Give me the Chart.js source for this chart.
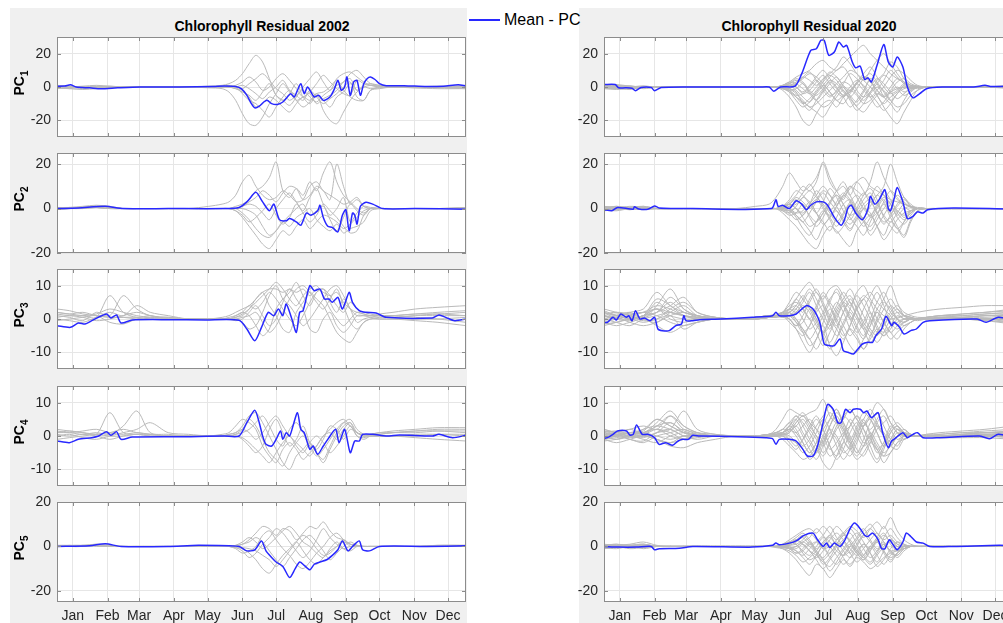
<!DOCTYPE html>
<html>
<head>
<meta charset="utf-8">
<script src="https://cdn.jsdelivr.net/npm/chart.js@4/dist/chart.umd.min.js"></script>
<style>
  body { margin: 0; width: 1003px; height: 623px; overflow: hidden; position: relative; background: #fff;
         font-family: "Liberation Sans", Arial, sans-serif; color: #000; }
  .fig { position: absolute; background: #f0f0f0; }
  .title { position: absolute; top: 18px; width: 300px; line-height: 16px; font-size: 14px; font-weight: bold; text-align: center; }
  .pc { position: absolute; left: -11px; width: 60px; height: 16px; line-height: 16px; font-size: 14px; font-weight: bold;
        text-align: center; transform: rotate(-90deg); }
  .pc sub { font-size: 10px; }
  .legend { position: absolute; left: 467px; top: 0; width: 112px; height: 30px; background: #fff; }
  .legend .swatch { position: absolute; left: 2px; top: 19px; width: 31px; height: 2px; background: rgb(40,40,255); }
  .legend .label { position: absolute; left: 37px; top: 11px; font-size: 16px; line-height: 18px; white-space: nowrap; }
  canvas { position: absolute; }
</style>
</head>
<body>
<div class="fig" style="left:10px;top:8px;width:457px;height:615px"></div>
<div class="fig" style="left:579px;top:8px;width:424px;height:615px"></div>
<div class="title" style="left:112px">Chlorophyll Residual 2002</div>
<div class="title" style="left:659px">Chlorophyll Residual 2020</div>
<div class="legend"><div class="swatch"></div><div class="label">Mean - PC</div></div>

<script>
// day-of-year axis, ticks in the middle of each month
const monthTicks = [15, 46, 74, 105, 135, 166, 196, 227, 258, 288, 319, 349];
const monthNames = ["Jan", "Feb", "Mar", "Apr", "May", "Jun", "Jul", "Aug", "Sep", "Oct", "Nov", "Dec"];

// y limits and tick values per PC row
const yLimits = [[-30, 30], [-20, 25], [-15, 15], [-15, 15], [-25, 20]];
const yTickValues = [[-20, 0, 20], [-20, 0, 20], [-10, 0, 10], [-10, 0, 10], [-20, 0, 20]];

// days on which the individual (gray) curves are sampled
const grayDays = [1, 12, 24, 36, 48, 60, 72, 84, 100, 118, 136, 148,
  154, 160, 166, 172, 178, 184, 190, 196, 202, 208, 214, 220, 226, 232, 238, 244, 250, 256, 262, 268, 274, 280,
  288, 300, 320, 340, 365];

// ---- 2002 ----
const gray02pc1 = [
  [0,0.5,0,-0.5,0,0,0,0,0,0,0.5,1,  2,4,8,14,19,15,5,-5,-8,-4,2,-6,-10,-5,-8,-12,-6,-3,2,-2,1,2,  1,0.5,0,0,0.5],
  [0,-1,-1.5,-1,-0.5,0,0,0,0,0,-0.5,-1,  -3,-8,-16,-22,-23,-18,-10,-4,2,-3,-8,-6,-4,-10,-7,-5,-2,3,5,-2,0,1,  0.5,0,-0.5,-0.5,-1],
  [1,0.5,-0.5,0,0.5,0,0,0,0,0,0,0.5,  1,0,-4,-8,-10,-14,-18,-12,-6,-2,-8,-12,-9,-4,-14,-20,-22,-15,-8,-3,0,-1,  -0.5,0,0,0.5,0],
  [-1,-0.5,0,0.5,0,0,0,0,0,0,0,0,  0,1,3,6,3,-2,0,5,8,4,-1,-6,-3,2,7,3,-1,-4,-5,4,2,1,  0,0,0,0,-0.5],
  [0,0,0.5,1,0.5,0,0,0,0,0,0,0,  0,-1,-3,-5,-8,-3,2,-5,-8,-11,-6,0,5,9,3,-2,5,8,9,6,3,1,  0.5,0,0,0,1],
  [-0.5,-1,0,0,0,0,0,0,0,0,0,0.5,  0,-1,-2,-6,-12,-10,-6,-8,-12,-15,-10,-6,-8,-4,-3,0,4,-2,-6,-8,-8,-2,  -1,0,-0.5,-1,-1],
  [0.5,0,-1,0,0,0,0,0,0,0,0,0,  0.5,0,1,-1,-4,-7,-3,0,4,-2,-5,-8,-2,-6,-10,-7,-4,0,3,-6,-8,-2,  0,0,0,0,0],
  [0,0,0,-0.5,0,0,0,0,0,0,0,0,  0,0,-1,2,5,8,4,-1,-4,-8,-5,-2,-6,-9,-5,-2,1,3,8,10,6,2,  1,0.5,0,0,0]
];
const gray02pc2 = [
  [0,0.5,0.5,1,0.5,0,0,0,0,0,1,2,  3,6,12,15,10,6,4,5,8,6,3,4,10,12,8,6,4,2,3,5,1,0,  0,0,0,0,0.5],
  [0.5,0.5,1,1.5,1,0,0,0,0,0,0,0,  0,-1,-4,-8,-12,-16,-18,-14,-10,-12,-8,-5,-9,-6,-3,-4,-6,-9,-7,-4,-1,0,  0,0,0,0,0],
  [-0.5,0,0.5,0.5,0,0,0,0,0,0,0,0,  0,1,2,4,8,10,14,21,8,5,9,6,12,8,16,21,12,6,3,0,-2,0,  0,0,0,0,0],
  [0,0,0.5,1,0.5,0,0,0,0,0,0,0,  0,0,-2,-5,-9,-12,-13,-10,-6,-8,-4,-2,0,-5,-8,-10,-7,-11,-9,-8,-6,-1,  0,0,0,0,0],
  [0.5,0,0,0.5,0,0,0,0,0,0,0,0,  0,0,1,3,5,8,6,3,7,10,9,4,6,10,8,4,20,10,2,4,1,0,  0,0,0,0,0.5],
  [0,0,0.5,0.5,0,0,0,0,0,0,0,0,  0,-1,-3,-6,-4,-1,2,-3,-7,-4,2,-2,-6,-3,2,-1,-4,-8,-11,-10,-3,0,  0,0,0,0,0],
  [0,0.5,0,0.5,0,0,0,0,0,0,0,0,  0,0,1,2,1,-2,-5,0,4,7,3,-1,5,9,2,-3,0,5,-6,-2,1,0.5,  0,0,0,0,0],
  [-0.5,0,0.5,1,0.5,0,0,0,0,0,0,0,  0,0,0,-1,-3,-8,-12,-10,-6,-3,0,2,-3,-1,1,-5,-10,-4,2,-1,-3,0,  0,0,0,0,0]
];
const gray02pc3 = [
  [3,2.5,1.5,1,0.5,0.5,0.5,0,0,0,0,0.5,  1,2,3,4,6,8,9,9,8,9,8,9,7,9,8,7,8,5,3,2,1.5,1,  1.5,2,3,3.5,4],
  [2,1.5,1,0.5,7,2,0.5,1,0,0,0,0,  0,1,2,1,-2,-5,-3,3,6,8,11,7,4,8,9,5,2,6,3,1,1,1,  1,1,1.5,2,2.5],
  [1,0.5,-0.5,2,1,7,3,1,0.5,0,0,0,  0,0.5,1,3,6,8,4,1,-3,-4,2,5,8,6,4,0,-4,-6,-7,-4,-1,0,  0.5,0.5,1,1,1],
  [0,-0.5,-1,0.5,2,1,4,2,1,0,0,0,  0,0,-1,-3,-2,2,7,10,6,4,1,-2,0,3,6,9,10,7,3,-1,0,0.5,  1,1,0.5,0,-1],
  [-0.5,0,0.5,1,-1,-1.5,0,0.5,0,0,0,0,  0,-0.5,0,2,4,1,-2,0,5,9,6,3,-3,-4,0,2,-2,-4,-2,1,1,0.5,  0,0,-0.5,-1,-2],
  [1.5,1,1,1.5,3,2,1,0.5,0.5,0,0,0,  0.5,1,2,4,3,5,8,6,3,0,-2,1,5,8,9,7,4,2,5,3,2,1.5,  1,1,1.5,1.5,2],
  [0.5,1,0.5,-0.5,0,1,2,1,0,0,0,0,  0,0,0.5,1,2,-1,-4,-2,2,6,9,10,8,5,3,6,9,4,-1,-3,-1,0,  0,0,0,0,0.5],
  [2,1.5,2,1,0.5,0.5,0,0,0,0,0,0,  0,0.5,1.5,3,5,7,9,11,9,6,4,7,9,10,7,3,0,-2,0,2,1.5,1,  1,0.5,1,1.5,1]
];
const gray02pc4 = [
  [2,1.5,1,0.5,7,1,0.5,0.5,0,0,0,0.5,  1,3,5,4,2,-3,-6,-8,-4,-2,-4,-7,-5,-3,0,2,4,5,3,1,0.5,0.5,  1,1.5,2,2.5,2.5],
  [1,1,0.5,1,0.5,3,7.5,1,0.5,0,0,0,  0.5,1,3,6,7,4,0,-4,-8,-10,-6,-4,-2,-5,-8,-4,0,3,4,0,-1,0,  0.5,1,1.5,2,2],
  [0,0.5,-0.5,-1,0,1,2,4,1,0.5,0,0,  0,0.5,2,5,3,-1,-5,-7,-9,-5,-2,0,-3,-6,-4,-1,2,4,3,1,0,0,  0,0,0.5,0.5,0],
  [-1,-0.5,0,0.5,1,2,1,0.5,0,0,0,0,  0,0,-1,-3,-5,-3,2,5,1,-3,-1,3,-2,-5,-7,-3,1,4,5,2,0.5,0,  0,0,-0.5,-1,-1.5],
  [1.5,1,1.5,2,1,0.5,1,0.5,0,0,0,0,  0,0.5,1,2,4,6,3,-1,-3,2,4,1,-2,-4,-1,3,2,-1,2,1,0,0.5,  0.5,1,1,1.5,1.5],
  [0.5,0,0.5,0,-1,0,0.5,0,0,0,0,0,  0,0,-0.5,-2,-4,-6,-8,-5,-2,0,-3,-5,-2,0,-2,-5,-3,0,3,0,-0.5,0,  0,0,0,0.5,0.5],
  [1,1.5,1,0.5,0,0,0.5,0,0,0,0,0,  0.5,1,2,1,-1,1,4,6,3,0,-2,-4,-6,-3,0,1,-1,2,4,1,0,0.5,  1,1,1.5,1.5,1]
];
const gray02pc5 = [
  [0.5,0.5,0,0.5,0,0,0,0,0,0,0,0,  0,-0.5,-1,-3,-6,-10,-12,-8,-4,-1,2,-2,-6,-8,-5,-2,0,2,1,0,0,0,  0,0,0,0.5,0.5],
  [0,0,0.5,1,0.5,0,0,0,0,0,0,0,  0,0.5,1,3,6,9,8,5,8,7,3,6,9,8,11,7,4,3,1,0.5,0,0,  0,0,0,0,0],
  [0.5,0,0,0.5,0,0,0,0,0,0,0,0,  0,-0.5,-2,-5,-3,1,4,8,6,2,-2,-5,-2,3,8,4,1,-1,0,0,0,0,  0,0,0,0.5,0.5],
  [0,0.5,0.5,0,0,0,0,0,0,0,0,0,  0,0,1,2,4,2,-2,-6,-9,-5,-1,3,5,2,-2,-6,-3,0,2,0.5,0,0,  0,0,0,0,0],
  [0,0,0.5,0.5,0,0,0,0,0,0,0,0,  0,-1,-3,-2,0,5,7,3,-1,-4,-8,-10,-7,-3,0,4,6,3,0,0,0,0,  0,0,0,0,0],
  [0.5,0,0,1,0,0,0,0,0,0,0,0,  0,0,-0.5,-1,-2,-4,-6,-9,-6,-2,2,5,3,-1,-4,-3,0,3,1,0.5,0,0,  0,0,0,0,0.5],
  [0,0,0,0.5,0.5,0,0,0,0,0,0,0,  0,0.5,2,4,2,-1,1,4,7,9,6,2,0,-3,-5,-1,2,-1,-2,0,0,0,  0,0,0,0,0]
];

// mean curves as [day, value]
const mean02pc1 = [[1,0.5],[8,0.6],[13,1.3],[18,0],[30,-0.5],[40,-1],[55,-0.5],[75,0],[110,0],[140,0.3],[150,0.6],[160,0.3],
  [165,-1],[170,-5],[174,-10],[177,-12.5],[181,-11.5],[185,-9],[188,-8],[192,-10],[197,-10.5],[202,-9],[206,-6],[209,-4],
  [212,-6],[215,-2],[218,2],[221,-4],[224,0],[227,-3],[230,-6],[234,-5],[238,-8],[242,-7],[245,-5],[248,-1],[251,4],[254,-2],
  [257,0],[259,6],[262,-5],[265,3],[268,4],[271,-5],[274,2],[277,5],[280,6],[284,4.5],[288,2],[294,0.8],[310,0.8],[330,0.3],
  [345,0.5],[358,1.3],[365,0.8]];
const mean02pc2 = [[1,0],[20,0.3],[44,1],[60,0],[100,0],[150,0],[163,0.5],[170,3],[178,7.3],[184,3],[190,-1],[194,2],[199,-5],
  [205,-5.5],[208,-4.5],[214,-6],[218,-7.5],[223,-2],[227,-3],[233,-1],[235,1.5],[238,-4],[242,-8],[246,-8.5],[251,-10.5],
  [255,-3],[258,-0.5],[261,-10],[264,-2],[266,-3],[268,-7],[271,1],[276,2.8],[282,2],[291,0],[320,0],[365,-0.3]];
const mean02pc3 = [[1,-2],[13,-2.5],[20,-1.2],[26,-1.5],[32,-0.5],[45,1.5],[49,0.3],[54,1.2],[58,-1.2],[68,-0.3],[100,-0.2],
  [133,-0.3],[163,-0.4],[170,-3],[177,-6.5],[183,-2.5],[189,2],[194,1],[198,3],[202,1],[205,4.5],[210,0],[214,-4],[217,2],
  [220,2.5],[226,10],[230,8.5],[235,9],[239,6],[243,6],[246,5],[251,6.5],[255,3],[261,8],[264,5],[270,2.5],[276,2],[285,1.8],
  [294,0.5],[335,0.3],[341,1.2],[347,0.5],[355,-0.5],[365,0]];
const mean02pc4 = [[1,-1.5],[12,-2],[20,-1],[32,-0.5],[38,0],[45,1.3],[49,0.2],[54,1.3],[58,-1],[68,-0.3],[120,-0.2],[150,0],
  [163,0],[170,4],[177,7.7],[181,4],[184,0],[187,-2.5],[192,-3],[196,-1],[200,1.5],[202,-1],[205,1],[208,0],[211,3],[215,7],
  [218,2],[221,1],[226,-4],[229,-3],[233,-5.5],[238,-3],[242,-1],[249,2],[252,-2],[257,2],[262,-5],[266,-1.5],[270,-1.5],
  [273,0.5],[282,0.5],[294,0],[306,0.3],[335,0],[341,0.5],[353,-0.5],[365,0.2]];
const mean02pc5 = [[1,0],[30,0.3],[44,1.2],[58,0],[100,0],[127,0.5],[163,0],[170,-2],[177,-1.5],[183,2.5],[187,-2],[192,-5],
  [196,-7],[202,-9],[208,-14],[213,-10],[217,-7],[221,-8.5],[226,-10.5],[230,-8],[235,-7],[241,-6],[246,-4],[251,-1.5],
  [255,2.5],[260,-2],[264,0],[270,2.5],[273,-1.5],[279,-2],[288,0],[330,0],[365,0.3]];

// ---- 2020 ----
const gray20pc1 = [
  [1.5,1,0.5,0,0,0,0,0,0,0,0,0,  0,1,3,6,8,10,14,16,12,10,14,18,22,25,20,16,12,8,5,3,1,0.5,  0,0,0,0,1],
  [-1,-1.5,-1,-0.5,0,0,0,0,0,0,0,0,  0,-2,-6,-12,-20,-23,-16,-10,-8,-12,-6,-2,-5,-10,-8,-4,-6,-3,-1,0,-1,0,  0,0,0,0,-0.5],
  [0.5,0,-1,0,0,0,0,0,0,0,0,0,  0,0,-1,-4,-8,-12,-10,-6,-2,2,6,10,8,4,0,-5,-12,-18,-22,-15,-8,-2,  0,0,0,0,0],
  [1,1.5,0.5,0,0,0,0,0,0,0,0,0,  0,1,2,4,2,-3,-8,-12,-10,-4,0,-6,-12,-15,-10,-5,0,6,10,8,4,1,  0,0,0,0,0.5],
  [-0.5,0,0.5,-1,0,0,0,0,0,0,0,0,  0,0,1,3,6,4,1,5,8,12,18,14,8,4,10,16,20,14,8,3,0,-1,  0,0,0,0,0],
  [0,-1,0,0.5,0,0,0,0,0,0,0,0,  0,-1,-3,-6,-9,-12,-15,-18,-12,-6,-2,-8,-14,-10,-4,0,-2,-8,-12,-10,-5,-2,  0,0,0,0,0],
  [1.5,0.5,0,0,0,0,0,0,0,0,0,0,  0,0.5,2,0,-4,-2,3,7,2,-3,-6,-2,3,8,12,6,0,-4,-2,2,1,0,  0,0,0,0,1],
  [-1,-0.5,-1.5,0,0,0,0,0,0,0,0,0,  0,-1,-2,-1,2,-4,-8,-3,2,6,0,-5,-9,-3,5,2,-6,-10,-15,-8,-2,0,  0,0,0,0,-1],
  [0.5,1,0,0,0,0,0,0,0,0,0,0,  0,0,0.5,2,5,8,6,2,-3,-8,-10,-4,2,6,4,-2,-6,-2,3,5,2,0.5,  0,0,0,0,0],
  [0,0,0.5,0,0,0,0,0,0,0,0,0,  0,-0.5,-2,-5,-4,0,4,0,-5,-3,2,8,5,0,-6,-12,-9,-3,0,-3,-1,0,  0,0,0,0,0],
  [-0.5,-1,0,0.5,0,0,0,0,0,0,0,0,  0,0,1,-2,-6,-9,-4,1,6,10,12,6,-2,-6,-3,4,8,15,12,5,1,0,  0,0,0,0,0],
  [1,0,-0.5,0,0,0,0,0,0,0,0,0,  0,-1,-1,-3,-10,-14,-8,-2,3,-1,-6,-12,-8,-2,4,-5,-10,-6,-3,0,-0.5,0,  0,0,0,0,0.5],
  [0,0.5,0,-0.5,0,0,0,0,0,0,0,0,  0,0,2,5,3,-2,-5,-1,4,2,-3,-6,-1,5,8,3,-3,-8,-4,1,-2,0,  0,0,0,0,0],
  [-0.5,0,0.5,0,0,0,0,0,0,0,0,0,  0,-1,-1,2,6,9,4,-2,-6,-2,3,1,-4,-8,-3,2,7,4,-1,-5,-3,0,  0,0,0,0,0],
  [0,-0.5,0,0.5,0,0,0,0,0,0,0,0,  0,0,-2,-6,-10,-7,-2,3,7,4,-2,-7,-11,-6,0,5,2,-3,-7,-4,-1,0,  0,0,0,0,0],
  [0.5,0,0,-0.5,0,0,0,0,0,0,0,0,  0,0.5,1,0,-3,1,6,10,5,0,-5,-3,2,6,3,-2,-5,0,5,2,0,0,  0,0,0,0,0],
  [0,0.5,-0.5,0,0,0,0,0,0,0,0,0,  0,-0.5,-3,-8,-12,-9,-3,1,-3,-8,-5,0,4,1,-4,-9,-14,-10,-4,-1,0,0,  0,0,0,0,0],
  [-0.5,0,0,0,0,0,0,0,0,0,0,0,  0,1,3,2,-1,-4,0,4,9,6,1,-2,2,-2,-6,-2,4,10,6,2,0,0,  0,0,0,0,0]
];
const gray20pc2 = [
  [1,0.5,0,0.5,0,0,0,0,0,0,1,2,  5,10,16,12,8,10,14,20,12,8,10,6,12,14,10,8,6,4,3,2,1,0.5,  0,0,0,0,0],
  [-0.5,-1,0,0,0,0,0,0,0,0,0,0,  0,-2,-5,-8,-12,-16,-18,-12,-8,-10,-14,-17,-10,-6,-3,-8,-12,-6,-9,-13,-6,-1,  0,0,0,0,0],
  [0.5,0,0.5,1,0,0,0,0,0,0,0,0,  0,1,3,6,10,8,12,21,14,8,4,10,8,6,12,21,14,8,4,2,1,0,  0,0,0,0,0],
  [0,1,0,0,0,0,0,0,0,0,0,0,  0,0,-1,-3,-6,-10,-14,-8,-4,-1,-6,-10,-4,0,-2,-8,-14,-10,-5,-2,-1,0,  0,0,0,0,0],
  [-1,-0.5,0.5,0,0,0,0,0,0,0,0,0,  0,0.5,2,5,3,0,4,8,6,2,5,9,12,8,3,6,10,20,12,5,2,0,  0,0,0,0,0],
  [0.5,-0.5,0,1,0,0,0,0,0,0,0,0,  0,-1,-3,-2,2,-4,-8,-4,2,6,2,-4,-8,-12,-6,0,4,-2,-8,-12,-5,-1,  0,0,0,0,0],
  [1,0,-0.5,0,0,0,0,0,0,0,0,0,  0,0,1,2,5,8,5,2,-2,-6,-2,3,6,2,-4,-2,3,8,5,1,-1,0,  0,0,0,0,0],
  [-0.5,0,1,0.5,0,0,0,0,0,0,0,0,  0,-0.5,-1,0,-4,-8,-6,-2,3,8,12,6,0,-5,-8,-3,2,-4,-9,-6,-2,0,  0,0,0,0,0],
  [0,0.5,0,-0.5,0,0,0,0,0,0,0,0,  0,0.5,2,0,-3,2,6,10,6,1,-4,-7,-3,2,5,10,6,2,-3,0,1,0,  0,0,0,0,0],
  [0.5,1,0.5,0,0,0,0,0,0,0,0,0,  0,0,-1,-4,-9,-12,-6,-1,-5,-11,-8,-3,3,7,4,-2,-6,-4,-1,-4,-2,0,  0,0,0,0,0],
  [-1,0,0,0.5,0,0,0,0,0,0,0,0,  0,1,4,8,6,2,-2,3,9,5,-1,-5,0,6,9,4,-4,-8,-11,-6,-1,0,  0,0,0,0,0],
  [0,-0.5,0.5,0,0,0,0,0,0,0,0,0,  0,0,0,-2,-1,3,-2,-6,-10,-4,2,4,-1,-5,-12,-8,-3,2,6,3,0.5,0,  0,0,0,0,0],
  [0.5,0,0,0.5,0,0,0,0,0,0,0,0,  0,0,2,4,1,-3,-6,-2,3,6,2,-3,-1,4,7,2,-3,-6,-2,2,0.5,0,  0,0,0,0,0],
  [0,-0.5,0,0,0,0,0,0,0,0,0,0,  0,-1,-2,1,5,3,-2,-7,-4,1,6,3,-3,-8,-4,1,5,2,-4,-7,-3,0,  0,0,0,0,0],
  [-0.5,0,0.5,0,0,0,0,0,0,0,0,0,  0,0.5,0,-3,-6,-2,3,7,3,-1,-5,-9,-5,0,3,-2,-7,-3,2,5,1,0,  0,0,0,0,0],
  [0,0.5,0,0,0,0,0,0,0,0,0,0,  0,0,1,3,7,11,6,1,-3,1,6,10,5,0,-3,2,8,4,-1,-3,-1,0,  0,0,0,0,0],
  [0.5,0,-0.5,0,0,0,0,0,0,0,0,0,  0,-0.5,-2,-5,-3,1,4,0,-4,-8,-3,2,-1,-6,-10,-5,0,3,-2,-5,-2,0,  0,0,0,0,0],
  [0,0,0.5,0.5,0,0,0,0,0,0,0,0,  0,1,2,0,-2,2,8,4,-1,3,7,4,-2,-4,1,6,3,-2,1,4,1,0,  0,0,0,0,0]
];
const gray20pc3 = [
  [3,2,1,0,4,9,3,1,0.5,0,0.5,1,  1.5,2,3,6,9,11,8,6,9,10,7,4,8,10,6,3,1,0,0.5,1,1.5,2,  2.5,3,3.5,4,4],
  [-1,-2,-1,0,-2,-4,-2,-1,0,0,0,0.5,  1,1,0,-3,-7,-10,-6,-2,-8,-11,-7,-3,-5,-9,-6,-3,-4,-2,-1,0,0,-0.5,  0,0,0,-0.5,-1],
  [1,0.5,2,3,8,4,2,1,0,0,0.5,1,  1,2,4,5,3,0,4,8,5,2,-2,-5,-2,3,7,10,6,2,0,-1,0,0,  0,0.5,0.5,1,1],
  [0,1,0,1,2,6.5,3,1,0.5,0,0.5,0.5,  1,1,-1,-3,-5,-2,2,4,0,-3,-6,-2,4,7,5,0,-3,-6,-4,-2,-1,0,  0,0,0,0,-1],
  [2,1,1.5,2,3,2,1,0.5,0,0,0.5,1,  1,2,5,8,6,3,-1,-4,-2,3,6,9,5,1,-3,-5,-2,2,4,2,1,0.5,  0.5,1,1,1.5,2],
  [-2,-1,0,-1,0,1,-3,-1,0,0,0,0.5,  0.5,1,2,0,-4,-8,-6,-1,3,0,-4,-8,-10,-6,-2,3,6,10,5,1,0,0,  0,0,0,0,0.5],
  [1,0,-0.5,1,3,1,0,0,0,0,0,0.5,  1,1.5,3,4,2,6,9,5,1,-2,2,6,3,-1,-4,-7,-4,0,2,1,0.5,0,  0,0.5,0.5,1,1],
  [0.5,1.5,1,-0.5,0,3,5,2,0.5,0,0.5,1,  1,0.5,0,-2,-1,3,0,-5,-9,-6,-1,2,-2,-5,0,5,8,4,0,-2,-1,0,  0,0,0,0,0],
  [-1,0,1,2,1,-1,-2,-1,0,0,0,0.5,  1,2,3,2,5,8,4,0,-3,2,5,3,0,-3,-1,2,-1,-4,-6,-3,-1,0,  0,0,0,-0.5,-1.5],
  [1.5,2,1,0.5,5,2,1,0.5,0,0,0.5,1,  1,1,2,3,0,-3,-1,2,6,8,4,0,3,6,8,5,3,1,-2,-1,0,0,  0.5,1,1.5,2,2.5],
  [0,-1,-2,0,1,2,1,0,0,0,0,0.5,  1,1.5,1,-1,-3,-6,-9,-5,0,4,8,5,1,-2,2,-2,-5,-3,0,1,0.5,0,  0,0,0,0,0],
  [2.5,1,0,1,2,4,6.5,2,0.5,0,0.5,0.5,  1,1,1,2,4,2,-2,-4,1,5,2,-3,-6,-9,-5,-1,3,6,3,1,0,0,  0.5,0.5,1,1.5,2],
  [1,0,1,2,4,3,1,0.5,0,0,0.5,1,  1,1.5,2,-1,-4,-2,3,7,4,-1,-5,-2,3,6,2,-3,-5,-2,1,0,0,0,  0,0,0.5,0.5,1],
  [-0.5,0.5,-1,-2,-1,1,2,0.5,0,0,0,0.5,  1,0.5,2,4,7,4,0,-4,-7,-3,2,5,1,-3,-7,-4,0,4,2,0,0,0,  0,0,0,0,-0.5],
  [2,1,0.5,1,6,4,1,0,0,0,0.5,1,  1,1,0,-2,1,5,8,4,-1,-5,-2,3,7,4,0,-4,-2,1,3,1,0.5,0,  0.5,1,1.5,2,3],
  [0,1,2,0,-1,2,4,1,0,0,0,0.5,  1,2,1,0,-3,-6,-3,1,5,9,5,0,-4,-1,4,8,4,-1,-3,-1,0,0,  0,0,0,0,0],
  [-1.5,-1,0,1,3,0,-1,0,0,0,0,0.5,  0.5,1,3,6,3,0,-4,-8,-4,0,4,1,-3,-6,-2,2,-1,-4,-2,0,0,0,  0,0,0,0,0],
  [1,2,1.5,0.5,2,5,2,1,0,0,0.5,1,  1,1,1,3,6,9,6,2,-2,1,5,7,3,-2,-5,0,5,3,0,-1,0,0,  0,0.5,0.5,1,1.5]
];
const gray20pc4 = [
  [2,1,0.5,1,3,6,2,1,0.5,0,0,0.5,  2,5,8,7,6,7,8,11,6,4,6,8,5,3,6,10,8,4,2,1,0,0,  0.5,1,1.5,2,3],
  [-1,-2,-1,0,-1,-3,-3.5,-2,-1,0,0,0,  0,-1,-3,-5,-7,-6,-4,-8,-10,-6,-2,-4,-7,-5,-2,-4,-8,-5,-2,-1,0,0,  0,-0.5,-0.5,-0.5,-1],
  [0.5,1,2,1,4,7.5,3,1,0,0,0,0,  0.5,1,3,6,4,1,-3,-6,-2,3,6,4,0,-3,-1,4,6,2,-1,0,0,0,  0,0,0,0.5,0.5],
  [1.5,0.5,0,-0.5,1,2,7.5,2,0.5,0,0,0.5,  1,2,4,2,-2,-5,-2,2,5,8,4,0,-4,-6,-2,2,4,6,3,1,0.5,0,  0,0,0.5,1,1],
  [-0.5,0,1,0.5,-1,-2,-1,0,0,0,0,0,  0,0,1,4,6,3,0,-3,0,4,1,-3,-6,-3,1,-2,-5,-3,0,1,0.5,0,  0,0,0,0,0],
  [0,-1,0,2,3,2,0,-1,0,0,0,0,  0,1,2,0,-3,-1,3,6,9,5,2,-1,3,7,5,1,-3,-1,2,0,0,0,  0,0,0,0,-0.5],
  [1,1.5,0.5,0,1,4,1,0,0,0,0,0.5,  0.5,1,-1,-3,-1,2,5,2,-3,-7,-4,1,4,0,-5,-8,-4,1,3,1,0,0,  0,0,0.5,1,1.5],
  [-1.5,-1,0,1,2,0,-1,-0.5,0,0,0,0,  0,0.5,1.5,3,5,2,-1,-5,-2,2,5,8,5,2,-1,-4,-2,2,4,2,0.5,0,  0,0,0,0,0],
  [0.5,0,-1,-2,0,1,2,0.5,0,0,0,0,  0.5,1,3,5,1,-2,-5,-2,2,0,-4,-6,-2,3,6,3,0,-3,-4,-1,0,0,  0,0,0,0,0],
  [2,1,1,1.5,5,3,1,0.5,0,0,0,0.5,  1,2,2,4,6,4,2,0,-4,-2,1,3,6,4,2,5,8,4,1,0,0,0,  0.5,0.5,1,1.5,2],
  [0,0.5,-0.5,0,-1,-2,0,0,0,0,0,0,  0,0,-1,-2,-4,-7,-5,-1,3,7,4,-1,-5,-3,0,-3,-6,-5,-2,0,0,0,  0,0,0,0,0],
  [-1,0,1,0.5,2,1,-1,0,0,0,0,0,  0,1,2,1,3,5,2,-2,-6,-4,0,5,2,-2,0,3,1,-2,0,0.5,0,0,  0,0,0,0.5,0.5],
  [1,0,1,2,5,3,1,0,0,0,0,0.5,  1,2,4,6,3,-1,-4,0,5,8,3,-2,-5,-1,4,7,3,-1,-3,0,0,0,  0,0,0.5,0.5,1],
  [-1,-0.5,0,-1,-2,0,1,0,0,0,0,0,  0,0.5,0,-2,-5,-3,1,5,2,-3,-7,-4,0,4,1,-4,-6,-2,1,0,0,0,  0,0,0,0,-0.5],
  [0.5,1,2,3,2,6,3,1,0,0,0,0.5,  0.5,1,2,5,7,4,0,-2,3,6,2,-2,1,5,8,4,0,-3,0,2,0.5,0,  0,0.5,1,1,1.5],
  [0,0.5,-1,-1.5,1,2,0,0,0,0,0,0,  0,0,-2,-4,-1,3,6,2,-3,-6,-2,3,6,2,-3,-7,-3,1,3,1,0,0,  0,0,0,0,0],
  [1.5,1,0,0.5,3,4,1.5,0.5,0,0,0,0.5,  1,1,3,1,-2,-5,-2,3,7,4,-1,-4,-1,3,5,1,-3,-1,2,1,0,0,  0,0,0.5,1,1],
  [-0.5,0,1,1,0,-1,0,0,0,0,0,0,  0,0.5,1,3,0,-4,-7,-3,1,-1,-5,-3,2,5,0,-5,-2,3,1,-1,0,0,  0,0,0,0,0]
];
const gray20pc5 = [
  [0.5,1,0.5,0,0,0,0,0,0,0,0,0,  0,1,3,5,7,8,6,9,6,3,6,9,7,4,8,11,8,13,7,3,1,0,  0,0,0,0,0],
  [-0.5,-1,0,0,0,0,0,0,0,0,0,0,  0,-1,-3,-6,-10,-13,-8,-10,-14,-10,-6,-8,-5,-7,-10,-8,-5,-3,-2,-1,0,0,  0,0,0,0,0],
  [0,0.5,1,2,0.5,0,0,0,0,0,0,0,  0,0,1,3,1,-2,-5,-2,3,6,3,-1,-4,-1,3,6,2,-2,-1,0,0,0,  0,0,0,0,0],
  [0.5,0,-0.5,0,0,0,0,0,0,0,0,0,  -0.5,-1,-2,-4,-7,-5,-2,2,5,9,6,2,-2,-5,-8,-4,0,3,1,0,0,0,  0,0,0,0,0],
  [-1,-0.5,0.5,1,0,0,0,0,0,0,0,0,  0,0,-1,0,2,4,8,5,0,-4,-8,-5,0,5,8,4,-2,-5,-3,0,0,0,  0,0,0,0,0],
  [0,0,-1,-0.5,0,0,0,0,0,0,0,0,  0,0.5,1.5,3,1,-2,-4,-7,-9,-5,-1,3,6,2,-3,-9,-6,-1,2,1,0,0,  0,0,0,0,0],
  [1,0.5,0,1,0,0,0,0,0,0,0,0,  0,-0.5,0,-2,-4,-1,2,5,9,4,0,-3,1,5,2,-2,4,8,4,1,0,0,  0,0,0,0,0.5],
  [0,-0.5,0,0.5,0,0,0,0,0,0,0,0,  0,0,-1,-3,-2,1,-3,-6,-3,1,5,8,4,-1,-5,-2,2,-3,-4,-1,0,0,  0,0,0,0,0],
  [-0.5,0,0.5,-1,0,0,0,0,0,0,0,0,  0,0.5,2,1,-3,-6,-4,0,-5,-8,-4,0,-3,-6,-2,3,-2,-6,-3,0,0,0,  0,0,0,0,0],
  [0.5,1,0,0,0,0,0,0,0,0,0,0,  0,1,2,4,6,3,-1,2,5,0,-4,-2,3,7,10,6,3,5,2,0.5,0,0,  0,0,0,0,0],
  [0,0,0.5,0,0,0,0,0,0,0,0,0,  0,-0.5,-1,-1,1,-2,-6,-10,-6,-2,2,-3,-7,-4,0,-4,-8,-4,-1,0,0,0,  0,0,0,0,0],
  [-1,0,-0.5,0,0,0,0,0,0,0,0,0,  0,0,0.5,2,4,1,2,-1,0,2,-2,-5,-2,1,-1,2,5,2,0,0,0,0,  0,0,0,0,0],
  [0,0.5,0,0,0,0,0,0,0,0,0,0,  0,0.5,1,3,5,2,-2,-5,-1,3,6,2,-3,-6,-2,3,6,1,-2,0,0,0,  0,0,0,0,0],
  [-0.5,0,0.5,0,0,0,0,0,0,0,0,0,  0,0,-1,-2,-5,-8,-4,1,4,0,-5,-9,-4,1,-3,-7,-2,3,0,-1,0,0,  0,0,0,0,0],
  [0.5,0,-0.5,0.5,0,0,0,0,0,0,0,0,  0,0,0.5,1,3,6,3,-1,-3,1,5,3,-1,-4,0,4,9,4,1,0,0,0,  0,0,0,0,0],
  [0,-0.5,0,0,0,0,0,0,0,0,0,0,  0,-0.5,-1,-3,-1,2,-2,-6,-11,-7,-2,1,-2,-5,-1,2,-3,-7,-3,-1,0,0,  0,0,0,0,0],
  [0,0,0.5,1,0,0,0,0,0,0,0,0,  0,0.5,2,1,-2,-4,0,4,2,-2,-4,0,4,8,3,-1,1,-2,-5,-2,0,0,  0,0,0,0,0],
  [-0.5,0,0,-0.5,0,0,0,0,0,0,0,0,  0,0,-0.5,0,2,0,-3,-8,-5,0,3,6,1,-4,-7,-3,1,-2,-4,-1,0,0,  0,0,0,0,0]
];

const mean20pc1 = [[1,1.5],[11,1.5],[14,-0.5],[20,-0.5],[26,-0.8],[29,-2.3],[34,-0.3],[43,-0.3],[46,-2.2],[52,-0.3],[80,0],
  [140,0],[148,0],[152,-2.5],[158,0],[171,0.5],[177,8],[185,22],[190,23],[194,28],[197,28],[201,19],[206,21],[210,27],
  [214,24],[217,25],[222,15],[225,11.5],[229,12.5],[233,4.5],[236,5.5],[239,3],[244,13],[250,25.5],[254,15],[258,12],
  [262,18],[267,12],[271,0],[276,-6.5],[282,-4],[288,-1],[302,0],[330,0],[340,1],[346,0.3],[365,0.5]];
const mean20pc2 = [[1,-0.5],[8,-1],[13,0.5],[27,-0.3],[28,0.8],[32,-0.2],[40,-0.3],[46,1.2],[50,0.3],[80,0],[150,0],[154,4],
  [156,1],[160,1.5],[166,0],[172,3.5],[177,2],[181,-0.5],[185,1.5],[190,3],[196,3],[200,1.5],[206,-4],[212,-7.5],[215,-5],
  [218,0],[221,1.5],[225,-2],[231,-5],[236,0],[238,5.5],[242,2],[246,4],[251,8.5],[254,0],[256,-1],[259,4],[262,9.5],
  [267,3],[271,-4.5],[276,-3.5],[280,-1.5],[285,-2],[289,-0.5],[312,0.2],[365,-0.2]];
const mean20pc3 = [[1,-1],[4,-1],[9,0.5],[12,-0.3],[16,1.5],[21,0.5],[23,1],[26,-0.5],[29,2.5],[33,0],[37,0.3],[42,-0.5],
  [46,0.5],[49,-3],[53,-3.5],[59,-3.5],[65,-2],[70,-1.5],[72,1],[74,-0.5],[80,-0.5],[86,-0.2],[105,0],[133,0.5],[151,1],
  [154,2],[157,1],[166,1],[172,1.5],[181,4],[187,3],[193,-1],[197,-7.5],[202,-8],[206,-8],[211,-6],[214,-9.5],[218,-10],
  [223,-10.5],[227,-9],[231,-7.5],[236,-7],[240,-7],[243,-5],[248,-3],[252,0.8],[257,-2],[259,-1],[264,-2.5],[268,-4.5],
  [274,-3.5],[279,-3],[285,-1],[291,-0.5],[333,0],[341,-1],[352,0.5],[365,-0.5]];
const mean20pc4 = [[1,-0.7],[4,-0.5],[9,0.5],[13,1.5],[21,1.5],[24,0.3],[27,0.5],[30,3.3],[35,0.5],[40,0.5],[46,-0.5],
  [50,-2.5],[56,-2],[62,-2.8],[67,-1.5],[71,-1],[76,-1],[80,0.2],[86,0],[120,-0.2],[145,-0.5],[151,-0.8],[154,-2.5],[157,-1],
  [166,-1],[172,-1.5],[178,-4],[182,-6],[187,-6],[191,-3],[196,4],[200,9.5],[205,8],[209,4],[212,4],[216,8],[220,7],[223,8],
  [229,8],[232,7],[235,7.5],[239,5.5],[245,7],[249,1],[254,-3.5],[257,-1.5],[261,-0.5],[267,1],[271,-0.5],[276,0.5],[280,1],
  [285,-0.5],[300,-0.5],[335,0],[344,-0.8],[352,0.5],[365,-0.5]];
const mean20pc5 = [[1,0],[14,-0.3],[30,-0.3],[43,0],[46,-1.5],[50,-1],[68,-0.8],[80,0],[133,-0.3],[151,0.5],[154,1.5],[157,0.8],
  [166,1.5],[172,2.5],[179,5],[187,6],[191,3],[196,0],[199,1.5],[202,-0.5],[206,1.5],[211,0],[215,2.5],[220,8],[224,10.5],
  [229,8],[233,5],[236,4.5],[240,6],[245,3],[248,-1],[251,-1],[255,3],[258,1],[262,-1.5],[267,2],[270,6],[274,4.5],[279,2],
  [285,1.5],[291,0],[312,0],[353,0.5],[365,0.3]];

// layout of the two columns of stacked axes
const rowTops = [37, 153, 269, 386, 502];
const plotH = 100;
const plotW = 409;
const columns = [
  { left: 10, axisW: 47, grays: [gray02pc1, gray02pc2, gray02pc3, gray02pc4, gray02pc5],
    means: [mean02pc1, mean02pc2, mean02pc3, mean02pc4, mean02pc5] },
  { left: 569, axisW: 35, grays: [gray20pc1, gray20pc2, gray20pc3, gray20pc4, gray20pc5],
    means: [mean20pc1, mean20pc2, mean20pc3, mean20pc4, mean20pc5] }
];

columns.forEach((col) => col.grays.forEach((set) => set.forEach((g) => {
  if (g.length !== grayDays.length) throw new Error("gray curve has " + g.length + " values");
})));

Chart.defaults.font.family = '"Liberation Sans", Arial, sans-serif';

const frameColor = "#8c8c8c";
const gridColor = "#e6e6e6";

// white axes background, then box and inward tick marks on top of the lines
const framePlugin = {
  id: "frame",
  beforeDraw(chart) {
    const a = chart.chartArea;
    const ctx = chart.ctx;
    ctx.save();
    ctx.fillStyle = "#fff";
    ctx.fillRect(a.left, a.top, a.right - a.left, a.bottom - a.top);
    ctx.restore();
  },
  afterDatasetsDraw(chart) {
    const a = chart.chartArea;
    const ctx = chart.ctx;
    const xs = chart.scales.x;
    const ys = chart.scales.y;
    ctx.save();
    ctx.strokeStyle = frameColor;
    ctx.lineWidth = 1;
    ctx.beginPath();
    xs.ticks.forEach((t) => {
      const px = Math.round(xs.getPixelForValue(t.value)) + 0.5;
      ctx.moveTo(px, a.bottom); ctx.lineTo(px, a.bottom - 4);
      ctx.moveTo(px, a.top); ctx.lineTo(px, a.top + 4);
    });
    ys.ticks.forEach((t) => {
      const py = Math.round(ys.getPixelForValue(t.value)) + 0.5;
      ctx.moveTo(a.left, py); ctx.lineTo(a.left + 4, py);
      ctx.moveTo(a.right, py); ctx.lineTo(a.right - 4, py);
    });
    ctx.stroke();
    ctx.strokeRect(Math.round(a.left) + 0.5, Math.round(a.top) + 0.5,
      Math.round(a.right - a.left) - 1, Math.round(a.bottom - a.top) - 1);
    ctx.restore();
  }
};

function addPcLabel(row) {
  const div = document.createElement("div");
  div.className = "pc";
  div.style.top = (rowTops[row] + plotH / 2 - 4 - 8) + "px";
  div.innerHTML = "PC<sub>" + (row + 1) + "</sub>";
  document.body.appendChild(div);
}

function makePanel(col, row) {
  const isBottom = row === rowTops.length - 1;
  const padTop = 10;
  const xAxisH = isBottom ? 24 : 10;
  const canvas = document.createElement("canvas");
  canvas.width = col.axisW + plotW + 1;
  canvas.height = padTop + plotH + xAxisH;
  canvas.style.left = col.left + "px";
  canvas.style.top = (rowTops[row] - padTop) + "px";
  document.body.appendChild(canvas);

  const datasets = [];
  datasets.push({
    data: col.means[row].map(([d, v]) => ({ x: d, y: v })),
    borderColor: "rgb(40,40,255)",
    borderWidth: 1.5,
    tension: 0.25,
    pointRadius: 0,
    order: 0
  });
  col.grays[row].forEach((g) => {
    datasets.push({
      data: grayDays.map((d, i) => ({ x: d, y: g[i] })),
      borderColor: "rgb(186,186,186)",
      borderWidth: 1,
      tension: 0.3,
      pointRadius: 0,
      order: 1
    });
  });

  new Chart(canvas, {
    type: "line",
    data: { datasets },
    plugins: [framePlugin],
    options: {
      responsive: false,
      animation: false,
      events: [],
      layout: { padding: { top: padTop, right: 1, left: 0, bottom: 0 } },
      plugins: { legend: { display: false }, tooltip: { enabled: false } },
      scales: {
        x: {
          type: "linear",
          min: 1,
          max: 365,
          afterBuildTicks: (axis) => { axis.ticks = monthTicks.map((v) => ({ value: v })); },
          afterFit: (axis) => {
            axis.height = xAxisH;
            axis.paddingLeft = 0;
            axis.paddingRight = 0;
          },
          grid: { color: gridColor, drawTicks: false },
          border: { display: false },
          ticks: {
            display: isBottom,
            autoSkip: false,
            maxRotation: 0,
            padding: 6,
            color: "#262626",
            font: { size: 14 },
            callback: (v) => monthNames[monthTicks.indexOf(v)]
          }
        },
        y: {
          min: yLimits[row][0],
          max: yLimits[row][1],
          afterBuildTicks: (axis) => { axis.ticks = yTickValues[row].map((v) => ({ value: v })); },
          afterFit: (axis) => {
            axis.width = col.axisW;
            axis.paddingTop = 0;
            axis.paddingBottom = 0;
          },
          grid: { color: gridColor, drawTicks: false },
          border: { display: false },
          ticks: { padding: 6, color: "#262626", font: { size: 14 } }
        }
      }
    }
  });
}

columns.forEach((col) => {
  rowTops.forEach((top, row) => makePanel(col, row));
});
rowTops.forEach((top, row) => addPcLabel(row));
</script>
</body>
</html>
